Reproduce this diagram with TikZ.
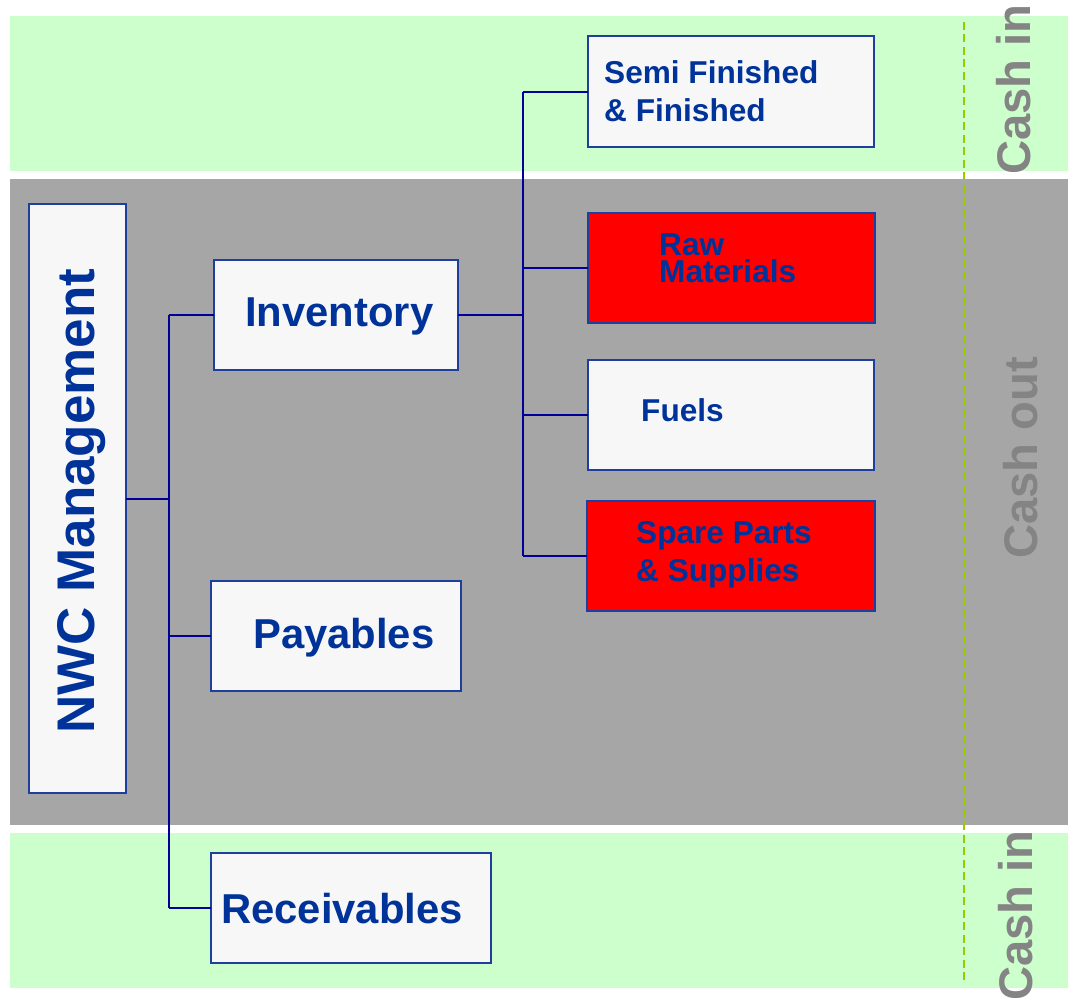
\documentclass[tikz,border=0pt]{standalone}
\usepackage{fontspec}
\setmainfont{Liberation Sans}
\definecolor{bandgreen}{HTML}{CCFFCC}
\definecolor{bandgray}{HTML}{A6A6A6}
\definecolor{boxfill}{HTML}{F7F7F7}
\definecolor{boxblue}{HTML}{1F3F9F}
\definecolor{linkblue}{HTML}{000099}
\definecolor{txtblue}{HTML}{003399}
\definecolor{cashgray}{HTML}{848484}
\definecolor{divgreen}{HTML}{99CC00}
\begin{document}
\begin{tikzpicture}[x=1pt,y=-1pt,
  box/.style={draw=boxblue, line width=1.9pt, fill=boxfill, inner sep=0pt, outer sep=0pt, anchor=north west},
  redbox/.style={box, fill=red},
  conn/.style={draw=linkblue, line width=2pt},
  lbl/.style={text=txtblue, inner sep=0pt, anchor=base west, font=\fontsize{31.6}{37}\selectfont\bfseries},
  biglbl/.style={lbl, font=\fontsize{41.8}{46}\selectfont\bfseries},
  cashlbl/.style={text=cashgray, inner sep=0pt, anchor=base west, rotate=90, font=\fontsize{47.2}{50}\selectfont\bfseries}]
\useasboundingbox (0,0) rectangle (1068,998);
\clip (0,0) rectangle (1068,998);
\fill[white] (0,0) rectangle (1068,998);

% cash-in / cash-out bands
\fill[bandgreen] (9.5,16) rectangle (1068,171);
\fill[bandgray] (9.5,179) rectangle (1068,825);
\fill[bandgreen] (9.5,833) rectangle (1068,988);

% divider between the tree and the band labels
\draw[divgreen, line width=1.8pt, dash pattern=on 8pt off 4.5pt] (964,22) -- (964,982);

% boxes
\node[box, minimum width=97pt, minimum height=589pt] (nwc) at (29,204) {};
\node[box, minimum width=244pt, minimum height=110pt] (inv) at (214,260) {};
\node[box, minimum width=250pt, minimum height=110pt] (pay) at (211,581) {};
\node[box, minimum width=280pt, minimum height=110pt] (rec) at (211,853) {};
\node[box, minimum width=286pt, minimum height=111pt] (semi) at (588,36) {};
\node[redbox, minimum width=287pt, minimum height=110pt] (raw) at (588,213) {};
\node[box, minimum width=286pt, minimum height=110pt] (fuel) at (588,360) {};
\node[redbox, minimum width=288pt, minimum height=110pt] (spare) at (587,501) {};

% connectors
\coordinate (jl) at (169,498.5);
\coordinate (jr) at (523,315);
\draw[conn] (nwc.east) -- (jl);
\draw[conn] (jl |- inv.west) -- (jl |- rec.west);
\draw[conn] (jl |- inv.west) -- (inv.west);
\draw[conn] (jl |- pay.west) -- (pay.west);
\draw[conn] (jl |- rec.west) -- (rec.west);
\draw[conn] (inv.east) -- (jr);
\draw[conn] (jr |- semi.west) -- (jr |- spare.west);
\draw[conn] (jr |- semi.west) -- (semi.west);
\draw[conn] (jr |- raw.west) -- (raw.west);
\draw[conn] (jr |- fuel.west) -- (fuel.west);
\draw[conn] (jr |- spare.west) -- (spare.west);

% labels
\node[lbl, rotate=90, font=\fontsize{53}{56}\selectfont\bfseries] (tnwc) at (94,734) {NWC Management};
\node[biglbl] (tinv) at (245,326) {Inventory};
\node[biglbl] (tpay) at (253,648) {Payables};
\node[biglbl] (trec) at (221,923) {Receivables};
\node[lbl] (tsemia) at (604,83) {Semi Finished};
\node[lbl] (tsemib) at (604,121) {\& Finished};
\node[lbl] (trawa) at (659,255) {Raw};
\node[lbl] (trawb) at (659,282) {Materials};
\node[lbl] (tfuel) at (641,421) {Fuels};
\node[lbl] (tsparea) at (636,543) {Spare Parts};
\node[lbl] (tspareb) at (636,581) {\& Supplies};

% band labels
\node[cashlbl] (cin1) at (1030,175) {Cash in};
\node[cashlbl] (cout) at (1037,559) {Cash out};
\node[cashlbl] (cin2) at (1032,1001) {Cash in};
\end{tikzpicture}
\end{document}
